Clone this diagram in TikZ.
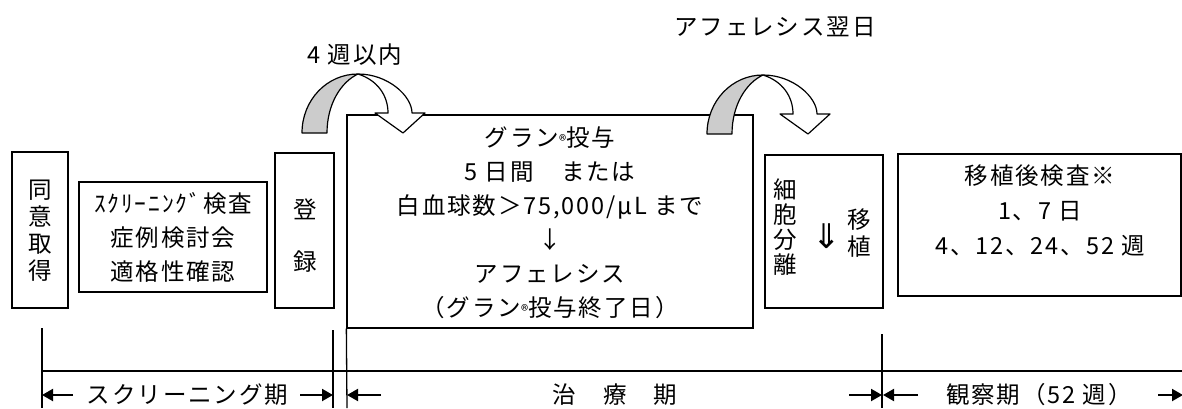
\documentclass[tikz,border=0pt]{standalone}
\usepackage{fontspec}
\setmainfont{Noto Sans CJK JP}[LetterSpace=8]
\newfontfamily\dejavu{DejaVu Sans}
\usetikzlibrary{arrows.meta}
\newcommand\myCurvedArrow[2]{%
  \begin{scope}[shift={(#1,#2)}]
    \path[back] (302,133) .. controls (302,100) and (327,74) .. (358,74)
       .. controls (341,82) and (327,104) .. (327,133) -- cycle;
    \path[front] (358,74) .. controls (388,74) and (412,96) .. (412,113)
       -- (425,113) -- (403,133) -- (375,113) -- (388,113)
       .. controls (388,95) and (377,80) .. (358,74) -- cycle;
  \end{scope}}
\newcommand\smreg{{\fontsize{15}{15}\selectfont ®}}
\begin{document}
\begin{tikzpicture}[x=1pt,y=-1pt,
  box/.style={draw,line width=1.3pt,inner sep=0pt},
  txt/.style={inner sep=0pt,align=center,font=\fontsize{23.5}{34}\selectfont},
  ln/.style={line width=1.3pt},
  pa/.style={line width=2pt,-{Triangle[length=11pt,width=12pt]}},
  back/.style={draw,line width=1.2pt,fill=black!20,line join=round},
  front/.style={draw,line width=1.2pt,fill=white,line join=round}]
\useasboundingbox (0,0) rectangle (1182,408);

% boxes
\node[box,minimum width=56pt,minimum height=156pt] (consent) at (40,230) {};
\node[txt,font=\fontsize{23.5}{27}\selectfont] (consentT) at (40,231) {同\\意\\取\\得};

\node[box,minimum width=188pt,minimum height=110pt] (screen) at (173,237) {};
\node[txt] (screenT) at (173,237) {ｽｸﾘｰﾆﾝｸﾞ検査\\症例検討会\\適格性確認};

\node[box,minimum width=59pt,minimum height=155pt] (reg) at (304.5,230.5) {};
\node[txt,font=\fontsize{23.5}{52}\selectfont] (regT) at (305,236) {登\\録};

\node[box,minimum width=406pt,minimum height=213pt] (treat) at (550,221.5) {};
\node[txt] (treatT) at (550,222.5) {グラン\smreg 投与\\5 日間　または\\白血球数＞75,000/μL まで\\↓\\アフェレシス\\（グラン\smreg 投与終了日）};

\node[box,minimum width=118pt,minimum height=153pt] (sep) at (824,231.5) {};
\node[txt,font=\fontsize{23.5}{25}\selectfont] (sepT) at (785,227) {細\\胞\\分\\離};
\node[txt,font=\dejavu\fontsize{34}{34}\selectfont] (sepA) at (827,236) {⇓};
\node[txt,font=\fontsize{23.5}{27}\selectfont] (sepB) at (859,233) {移\\植};

\node[box,minimum width=283pt,minimum height=142pt] (post) at (1039.5,225) {};
\node[txt,font=\fontsize{23.5}{35}\selectfont] (postT) at (1040,210) {移植後検査※\\1、7 日\\4、12、24、52 週};

% curved arrows
\myCurvedArrow{0}{0}
\myCurvedArrow{405}{1}
\node[txt] (lab4w) at (355,55) {4 週以内};
\node[txt] (labAph) at (775,27) {アフェレシス翌日};

% timeline
\coordinate (v1t) at (42,328);  \coordinate (v1b) at (42,408);
\coordinate (v2t) at (333,330); \coordinate (v2b) at (333,408);
\coordinate (v3b) at (347,408);
\coordinate (v4t) at (882,334); \coordinate (v4b) at (882,408);
\coordinate (hl) at (42,371);   \coordinate (hr) at (1182,371);
\draw[ln] (v1t) -- (v1b);
\draw[ln] (v2t) -- (v2b);
\draw[ln] (treat.south west) -- (v3b);
\draw[ln] (v4t) -- (v4b);
\draw[ln] (hl) -- (hr);

% period labels
\node[txt] (p1) at (187.5,395) {スクリーニング期};
\node[txt] (p2) at (615,395) {治　療　期};
\node[txt] (p3) at (1039,395) {観察期（52 週）};
\coordinate (a1s) at (73,395);   \coordinate (a1e) at (42,395);
\coordinate (a2s) at (300,395);  \coordinate (a2e) at (333,395);
\coordinate (a3s) at (381,395);  \coordinate (a3e) at (347,395);
\coordinate (a4s) at (849,395);  \coordinate (a4e) at (882,395);
\coordinate (a5s) at (918,395);  \coordinate (a5e) at (883,395);
\coordinate (a6s) at (1158,395); \coordinate (a6e) at (1183,395);
\draw[pa] (a1s) -- (a1e);
\draw[pa] (a2s) -- (a2e);
\draw[pa] (a3s) -- (a3e);
\draw[pa] (a4s) -- (a4e);
\draw[pa] (a5s) -- (a5e);
\draw[pa] (a6s) -- (a6e);
\end{tikzpicture}
\end{document}
